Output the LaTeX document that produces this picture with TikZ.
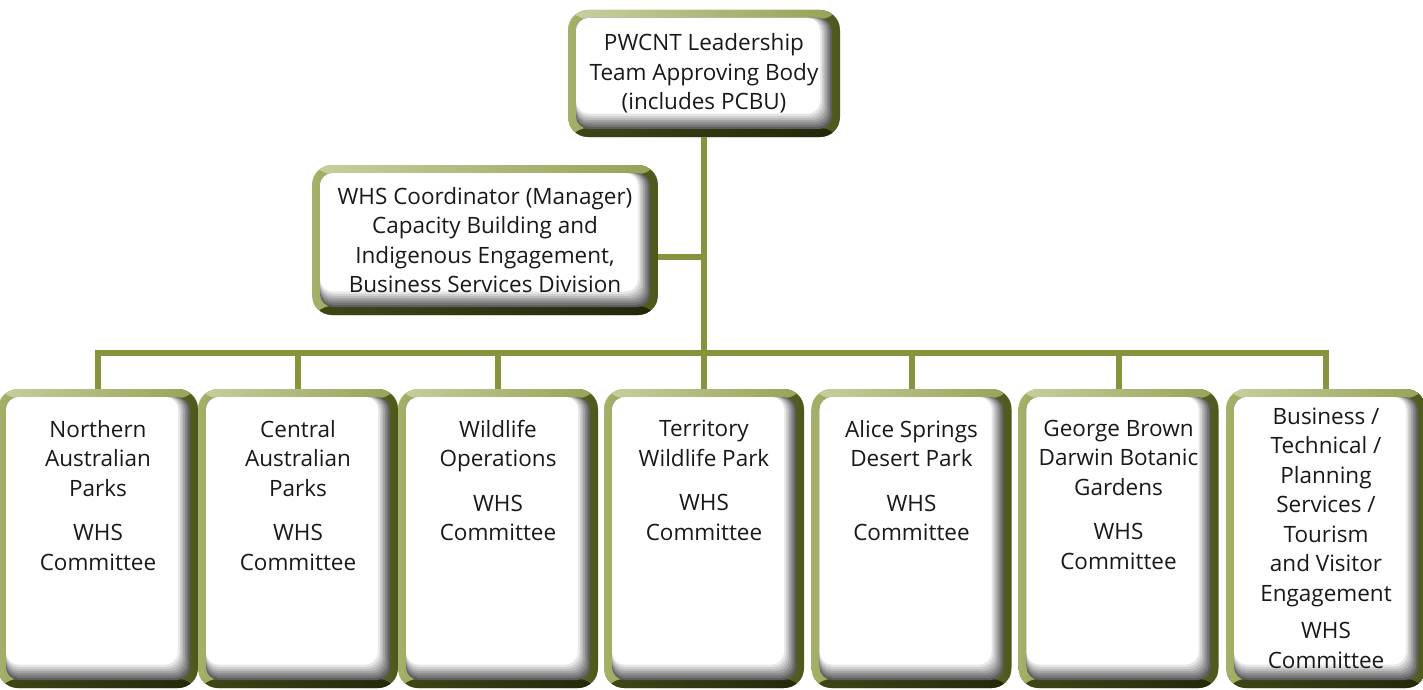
\documentclass[tikz,border=0pt]{standalone}
\usepackage{fontspec}
\setmainfont{Open Sans}

\definecolor{ringleft}{HTML}{A7B068}
\definecolor{ringright}{HTML}{4E581C}
\definecolor{ringtopl}{HTML}{C8CFA0}
\definecolor{ringtopr}{HTML}{97A155}
\definecolor{ringbotl}{HTML}{3F4718}
\definecolor{ringbotr}{HTML}{22270B}
\definecolor{linkolive}{HTML}{89933E}
\definecolor{shadowgray}{HTML}{5E5E5E}

% unit box text: name lines, a gap, then the committee lines
\newcommand{\whsunit}[3][237pt]{\parbox[c][#1][t]{200pt}{\centering #2\\[#3]WHS\\Committee}}

\begin{document}
\begin{tikzpicture}[x=1pt,y=-1pt,
  every node/.style={font=\fontsize{22.5}{29.5}\selectfont},
  orgbox/.style={rectangle, rounded corners=20pt, inner sep=0pt, outer sep=0pt,
    left color=ringleft, right color=ringright,
    text=black!90, align=center,
    path picture={
      % lit top edge and dark bottom edge of the frame
      \shade[left color=ringtopl, right color=ringtopr]
        (path picture bounding box.north west) rectangle ([yshift=-9pt]path picture bounding box.north east);
      \shade[left color=ringbotl, right color=ringbotr]
        ([yshift=9pt]path picture bounding box.south west) rectangle (path picture bounding box.south east);
      % white face with a soft inner shadow
      \foreach \k in {0,...,7}{
        \pgfmathtruncatemacro\pct{100*\k/7}
        \pgfmathsetmacro\dx{8+1.7*\k}
        \pgfmathsetmacro\dy{8+2.2*\k}
        \fill[white!\pct!shadowgray, rounded corners=13pt]
          ([shift={(8pt,-8pt)}]path picture bounding box.north west)
          rectangle ([shift={(-\dx pt,\dy pt)}]path picture bounding box.south east);
      }
    }},
  unitbox/.style={orgbox, minimum width=180pt, minimum height=299pt},
  link/.style={draw=linkolive, line width=6pt}
]
\useasboundingbox (0,0) rectangle (1423,690);
\fill[white] (0,0) rectangle (1423,690);

\node[orgbox, minimum width=272pt, minimum height=127pt] (lead) at (704,73.5)
  {PWCNT Leadership\\Team Approving Body\\(includes PCBU)};
\node[orgbox, minimum width=346pt, minimum height=150pt] (coord) at (485,240)
  {WHS Coordinator (Manager)\\Capacity Building and\\Indigenous Engagement,\\Business Services Division};

\node[unitbox] (nap) at (98,538.5) {\whsunit{Northern\\Australian\\Parks}{15pt}};
\node[unitbox] (cap) at (298,538.5) {\whsunit{Central\\Australian\\Parks}{15pt}};
\node[unitbox] (wop) at (498,538.5) {\whsunit{Wildlife\\Operations}{15pt}};
\node[unitbox] (twp) at (704,538.5) {\whsunit{Territory\\Wildlife Park}{15pt}};
\node[unitbox] (asd) at (911.5,538.5) {\whsunit{Alice Springs\\Desert Park}{15pt}};
\node[unitbox] (gbd) at (1118.5,538.5) {\whsunit{George Brown\\Darwin Botanic\\Gardens}{15pt}};
\node[unitbox] (bts) at (1326,538.5)
  {\whsunit[262pt]{Business /\\Technical /\\Planning\\Services /\\Tourism\\and Visitor\\Engagement}{8pt}};

% trunk, side branch and bus
\coordinate (tap) at (704,257);
\coordinate (bus) at (704,353);
\draw[link] (lead.south) -- (twp.north);
\draw[link] (coord.east |- tap) -- (tap);
\draw[link] ([xshift=-3pt]nap.north |- bus) -- ([xshift=3pt]bts.north |- bus);
\foreach \n in {nap,cap,wop,asd,gbd,bts}
  \draw[link] (\n.north) -- (\n.north |- bus);
\end{tikzpicture}
\end{document}
